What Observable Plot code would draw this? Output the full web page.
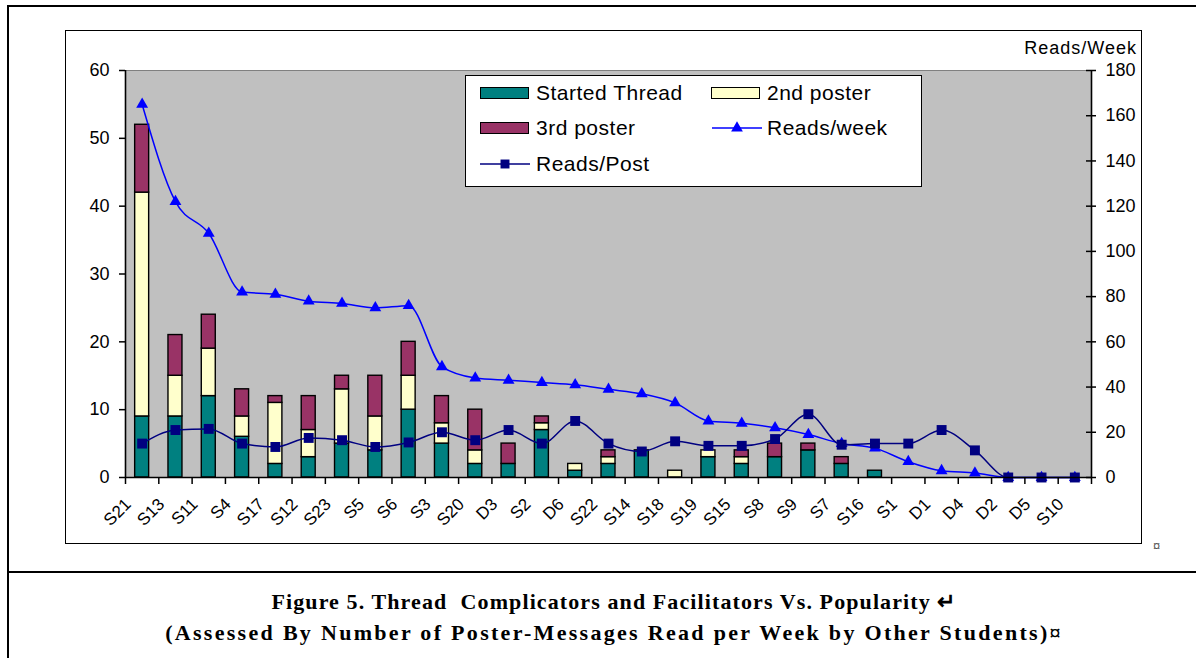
<!DOCTYPE html>
<html>
<head>
<meta charset="utf-8">
<script src="https://cdn.jsdelivr.net/npm/d3@7"></script>
<script src="https://cdn.jsdelivr.net/npm/@observablehq/plot@0.6"></script>
<style>
  html, body { margin: 0; padding: 0; background: #fff; }
  body { width: 1196px; height: 658px; position: relative; overflow: hidden; font-family: "Liberation Sans", Arial, sans-serif; }
  .abs { position: absolute; }
  .leg-text { position: absolute; font-size: 21px; line-height: 24px; color: #000; white-space: nowrap; letter-spacing: 0.5px; }
  .sw { position: absolute; width: 47px; height: 10px; border: 1.5px solid #000; }
  .cap { position: absolute; left: 0; width: 1228px; text-align: center; font-family: 'Liberation Serif','Times New Roman',serif; font-weight: bold; font-size: 22px; line-height: 31px; white-space: nowrap; }
</style>
</head>
<body>
<!-- document table borders -->
<div class="abs" style="left:8px; top:5px; width:1188px; border-top:2px solid #000;"></div>
<div class="abs" style="left:7px; top:5px; height:653px; border-left:2px solid #000;"></div>
<div class="abs" style="left:8px; top:571px; width:1188px; border-top:2px solid #000;"></div>

<!-- chart area border -->
<div class="abs" style="left:65px; top:30px; width:1077px; height:514px; border:1.5px solid #000; box-sizing:border-box;"></div>
<div id="chart" class="abs" style="left:66px; top:31px;"></div>

<div class="abs" style="right:59px; top:38px; font-size:18px; letter-spacing:1px;">Reads/Week</div>

<!-- legend -->
<div id="legend" class="abs" style="left:465px; top:75px; width:457px; height:112px; border:1.5px solid #000; background:#fff; box-sizing:border-box;"></div>

<div class="abs" style="left:1153px; top:538px; font-size:13px; color:#555;">¤</div>

<div class="cap" style="top:586px; letter-spacing:1.1px;">Figure 5. Thread&nbsp; Complicators and Facilitators Vs. Popularity ↵</div>
<div class="cap" style="top:617px; letter-spacing:2.3px;">(Assessed By Number of Poster-Messages Read per Week by Other Students)¤</div>

<script>
const categories = ["S21","S13","S11","S4","S17","S12","S23","S5","S6","S3","S20","D3","S2","D6","S22","S14","S18","S19","S15","S8","S9","S7","S16","S1","D1","D4","D2","D5","S10"];
const startedThread = [9,9,12,6,2,3,5,4,10,5,2,2,7,1,2,4,0,3,2,3,4,2,1,0,0,0,0,0,0];
const secondPoster  = [33,6,7,3,9,4,8,5,5,3,2,0,1,1,1,0,1,1,1,0,0,0,0,0,0,0,0,0,0];
const thirdPoster   = [10,6,5,4,1,5,2,6,5,4,6,3,1,0,1,0,0,0,1,2,1,1,0,0,0,0,0,0,0];
const readsPerWeek  = [165,122,108,82,81,78,77,75,76,49,44,43,42,41,39,37,33,25,24,22,19,15,13,7,3,2,0,0,0];
const readsPerPost  = [15,21,21.5,15,13.5,17.5,16.5,13.5,15.5,20,16.5,21,15,25,15,11.5,16,14,14,17,28,14.5,15,15,21,12,0,0,0];
const leftTicks  = [0,10,20,30,40,50,60];
const rightTicks = [0,20,40,60,80,100,120,140,160,180];

const seriesNames = ["Started Thread","2nd poster","3rd poster"];
const seriesColors = ["#008080","#FFFFCC","#993366"];
const lineNames = ["Reads/week","Reads/Post"];
const lineColors = ["#0000FF","#000080"];

// stacked segments built from the arrays
const segments = [];
categories.forEach((c, i) => {
  let base = 0;
  [startedThread, secondPoster, thirdPoster].forEach((arr, s) => {
    const v = arr[i];
    if (v > 0) segments.push({i, cat: c, series: seriesNames[s], y1: base, y2: base + v});
    base += v;
  });
});
const weekRows = categories.map((c, i) => ({i, cat: c, v: readsPerWeek[i]}));
const postRows = categories.map((c, i) => ({i, cat: c, v: readsPerPost[i]}));

const RATIO = 3;       // right axis (0-180) over left axis (0-60)
const HALF = 0.21;     // half bar width, in category units
const n = categories.length;

const plot = Plot.plot({
  width: 1076,
  height: 513,
  marginLeft: 59,
  marginRight: 51,
  marginTop: 39,
  marginBottom: 67,
  x: {type: "linear", domain: [0, n], axis: null},
  y: {domain: [0, 60], axis: null},
  color: {domain: seriesNames, range: seriesColors},
  style: {fontFamily: "'Liberation Sans', Arial, sans-serif", fontSize: "18px", color: "#000", background: "transparent", overflow: "visible"},
  marks: [
    Plot.frame({fill: "#C0C0C0", stroke: "#808080"}),
    Plot.rectY(segments, {x1: d => d.i + 0.5 - HALF, x2: d => d.i + 0.5 + HALF, y1: "y1", y2: "y2", fill: "series", stroke: "#000", strokeWidth: 1.4}),
    Plot.line(weekRows, {x: d => d.i + 0.5, y: d => d.v / RATIO, stroke: lineColors[0], strokeWidth: 1.5, curve: "monotone-x"}),
    Plot.dot(weekRows, {x: d => d.i + 0.5, y: d => d.v / RATIO, symbol: "triangle", fill: lineColors[0], r: 4.4}),
    Plot.line(postRows, {x: d => d.i + 0.5, y: d => d.v / RATIO, stroke: lineColors[1], strokeWidth: 1.5, curve: "monotone-x"}),
    Plot.dot(postRows, {x: d => d.i + 0.5, y: d => d.v / RATIO, symbol: "square", fill: lineColors[1], r: 5.6}),
    Plot.ruleX([0, n], {stroke: "#000", strokeWidth: 1.6}),
    Plot.ruleY([0], {stroke: "#000", strokeWidth: 1.6}),
    Plot.axisY({anchor: "left", ticks: leftTicks, tickSize: 6, tickPadding: 10, tickFormat: d => String(d), strokeWidth: 1.5}),
    Plot.ruleY(rightTicks, {y: d => d / RATIO, x1: n, x2: n, insetLeft: -5, insetRight: -5, stroke: "#000", strokeWidth: 1.5}),
    Plot.axisY({anchor: "right", ticks: rightTicks.map(d => d / RATIO), tickSize: 0, tickPadding: 14, tickFormat: d => String(Math.round(d * RATIO))}),
    Plot.axisX({ticks: d3.range(0, n + 1), tickSize: 7, tickFormat: () => "", strokeWidth: 1.5}),
    Plot.axisX({ticks: categories.map((_, i) => i + 0.5), tickSize: 0, tickPadding: 24, tickRotate: -45, dx: -14, fontSize: 17, tickFormat: d => categories[Math.round(d - 0.5)]})
  ]
});
document.getElementById("chart").appendChild(plot);

// legend
const legend = document.getElementById("legend");
function addText(txt, left, top) {
  const el = document.createElement("div");
  el.className = "leg-text";
  el.style.left = left + "px"; el.style.top = top + "px";
  el.textContent = txt;
  legend.appendChild(el);
}
function addSwatch(color, left, top) {
  const el = document.createElement("div");
  el.className = "sw";
  el.style.left = left + "px"; el.style.top = top + "px";
  el.style.background = color;
  legend.appendChild(el);
}
function addLineIcon(color, symbol, left, top) {
  const ns = "http://www.w3.org/2000/svg";
  const svg = document.createElementNS(ns, "svg");
  svg.setAttribute("width", 52); svg.setAttribute("height", 14);
  svg.style.position = "absolute"; svg.style.left = left + "px"; svg.style.top = top + "px";
  const ln = document.createElementNS(ns, "line");
  ln.setAttribute("x1", 0); ln.setAttribute("x2", 50); ln.setAttribute("y1", 7); ln.setAttribute("y2", 7);
  ln.setAttribute("stroke", color); ln.setAttribute("stroke-width", 1.5);
  svg.appendChild(ln);
  const p = document.createElementNS(ns, "path");
  p.setAttribute("d", d3.symbol(symbol === "square" ? d3.symbolSquare : d3.symbolTriangle, symbol === "square" ? 80 : 60)());
  p.setAttribute("transform", "translate(25,7)");
  p.setAttribute("fill", color);
  svg.appendChild(p);
  legend.appendChild(svg);
}
// row 1
addSwatch(seriesColors[0], 14, 11);
addText(seriesNames[0], 70, 5);
addSwatch(seriesColors[1], 245, 11);
addText(seriesNames[1], 301, 5);
// row 2
addSwatch(seriesColors[2], 14, 46);
addText(seriesNames[2], 70, 40);
addLineIcon(lineColors[0], "triangle", 246, 45);
addText(lineNames[0], 301, 40);
// row 3
addLineIcon(lineColors[1], "square", 14, 81);
addText(lineNames[1], 70, 76);
</script>
</body>
</html>
